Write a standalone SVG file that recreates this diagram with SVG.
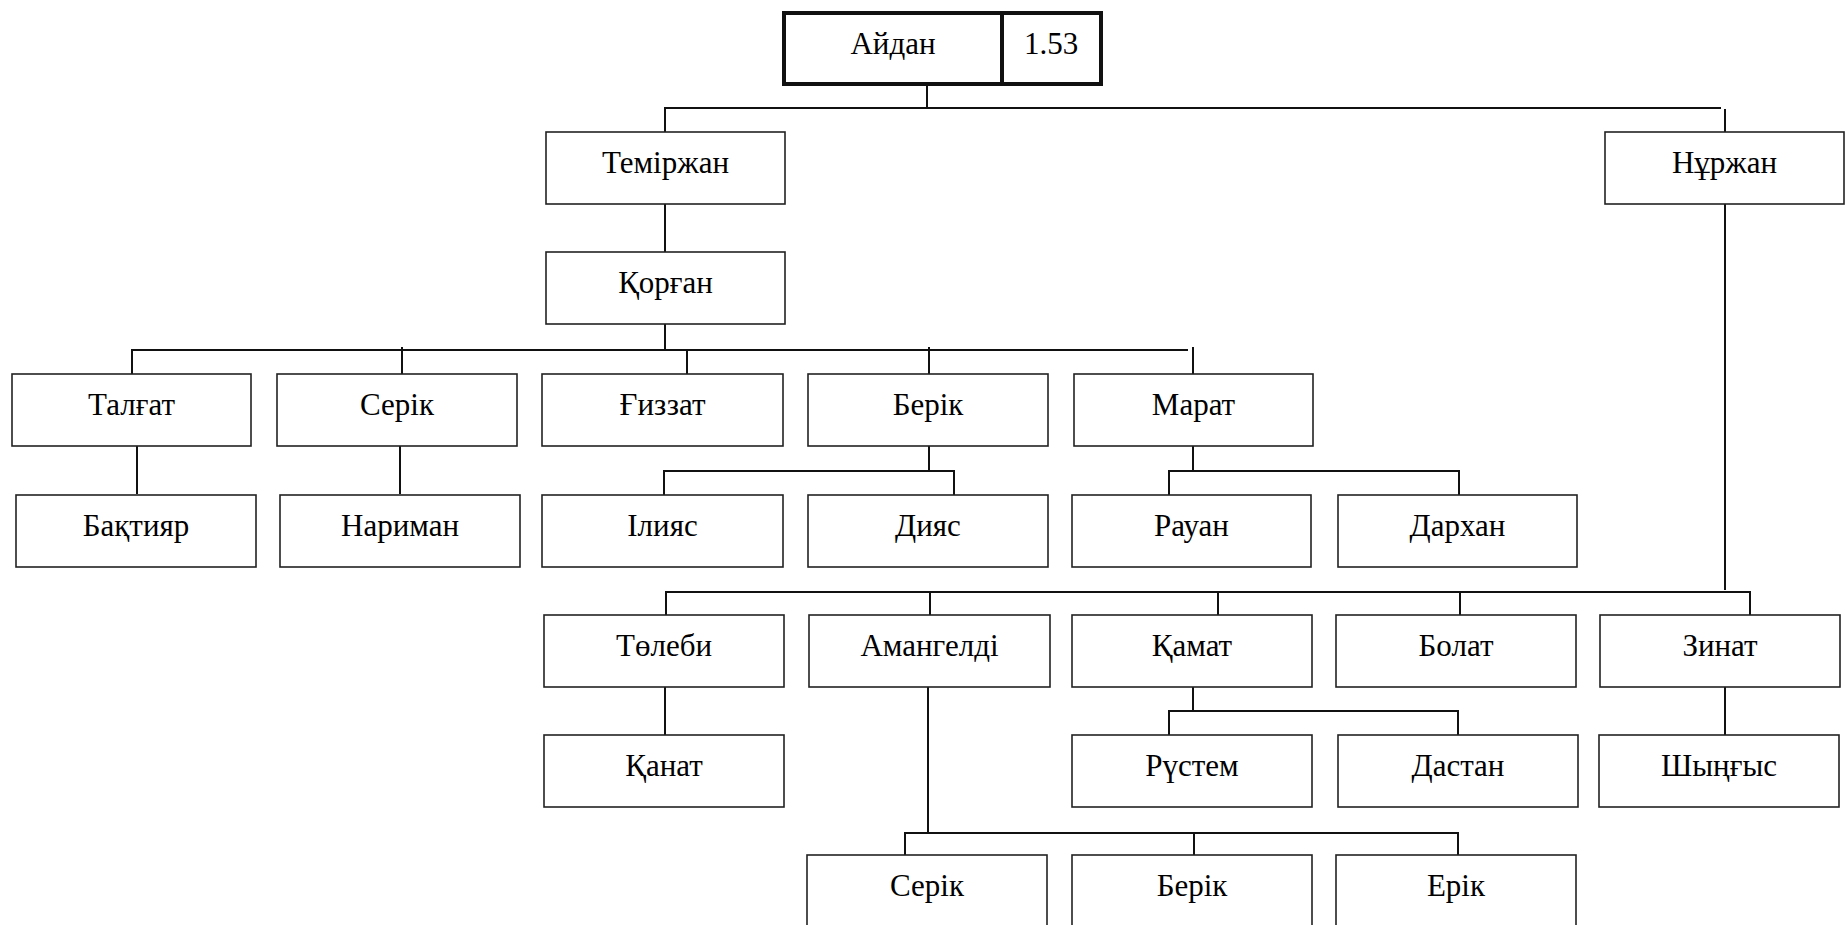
<svg xmlns="http://www.w3.org/2000/svg" width="1845" height="925" viewBox="0 0 1845 925">
<style>
  .b{fill:#fff;stroke:#222;stroke-width:1.6}
  .r{fill:#fff;stroke:#111;stroke-width:4}
  .t{font-family:"Liberation Serif","Times New Roman","DejaVu Serif",serif;font-size:31px;fill:#000;text-anchor:middle}
  .c line{stroke:#111;stroke-width:2;stroke-linecap:square}
</style>
<rect width="1845" height="925" fill="#fff"/>
<g class="c" id="connectors">
  <line x1="927" y1="84" x2="927" y2="108"/>
  <line x1="665" y1="108" x2="1720" y2="108"/>
  <line x1="665" y1="108" x2="665" y2="132"/>
  <line x1="1725" y1="110" x2="1725" y2="132"/>
  <line x1="665" y1="204" x2="665" y2="252"/>
  <line x1="665" y1="324" x2="665" y2="349"/>
  <line x1="132" y1="350" x2="1187" y2="350"/>
  <line x1="132" y1="350" x2="132" y2="374"/>
  <line x1="402" y1="348" x2="402" y2="373"/>
  <line x1="687" y1="350" x2="687" y2="374"/>
  <line x1="929" y1="348" x2="929" y2="373"/>
  <line x1="1193" y1="348" x2="1193" y2="373"/>
  <line x1="137" y1="446" x2="137" y2="493"/>
  <line x1="400" y1="446" x2="400" y2="493"/>
  <line x1="929" y1="446" x2="929" y2="471"/>
  <line x1="664" y1="471" x2="954" y2="471"/>
  <line x1="664" y1="471" x2="664" y2="495"/>
  <line x1="954" y1="471" x2="954" y2="495"/>
  <line x1="1193" y1="446" x2="1193" y2="471"/>
  <line x1="1169" y1="471" x2="1459" y2="471"/>
  <line x1="1169" y1="471" x2="1169" y2="495"/>
  <line x1="1459" y1="471" x2="1459" y2="495"/>
  <line x1="1725" y1="204" x2="1725" y2="589"/>
  <line x1="666" y1="592" x2="1750" y2="592"/>
  <line x1="666" y1="592" x2="666" y2="615"/>
  <line x1="930" y1="592" x2="930" y2="615"/>
  <line x1="1218" y1="592" x2="1218" y2="615"/>
  <line x1="1460" y1="592" x2="1460" y2="615"/>
  <line x1="1750" y1="592" x2="1750" y2="615"/>
  <line x1="665" y1="687" x2="665" y2="735"/>
  <line x1="1193" y1="687" x2="1193" y2="711"/>
  <line x1="1169" y1="711" x2="1458" y2="711"/>
  <line x1="1169" y1="711" x2="1169" y2="735"/>
  <line x1="1458" y1="711" x2="1458" y2="735"/>
  <line x1="1725" y1="687" x2="1725" y2="735"/>
  <line x1="928" y1="687" x2="928" y2="831"/>
  <line x1="905" y1="833" x2="1458" y2="833"/>
  <line x1="905" y1="833" x2="905" y2="855"/>
  <line x1="1194" y1="833" x2="1194" y2="855"/>
  <line x1="1458" y1="833" x2="1458" y2="855"/>
</g>
<g id="n-aidan">
  <rect class="r" x="784" y="13" width="317" height="71"/>
  <line x1="1002" y1="13" x2="1002" y2="84" stroke="#111" stroke-width="4"/>
  <text class="t" x="893" y="54">Айдан</text>
  <text class="t" x="1051" y="54">1.53</text>
</g>
<g id="n-temirzhan"><rect class="b" x="546" y="132" width="239" height="72"/><text class="t" x="665.5" y="173">Теміржан</text></g>
<g id="n-nurzhan"><rect class="b" x="1605" y="132" width="239" height="72"/><text class="t" x="1724.5" y="173">Нұржан</text></g>
<g id="n-qorgan"><rect class="b" x="546" y="252" width="239" height="72"/><text class="t" x="665.5" y="293">Қорған</text></g>
<g id="n-talgat"><rect class="b" x="12" y="374" width="239" height="72"/><text class="t" x="131.5" y="415">Талғат</text></g>
<g id="n-serik1"><rect class="b" x="277" y="374" width="240" height="72"/><text class="t" x="397" y="415">Серік</text></g>
<g id="n-gizzat"><rect class="b" x="542" y="374" width="241" height="72"/><text class="t" x="662.5" y="415">Ғиззат</text></g>
<g id="n-berik1"><rect class="b" x="808" y="374" width="240" height="72"/><text class="t" x="928" y="415">Берік</text></g>
<g id="n-marat"><rect class="b" x="1074" y="374" width="239" height="72"/><text class="t" x="1193.5" y="415">Марат</text></g>
<g id="n-baktiyar"><rect class="b" x="16" y="495" width="240" height="72"/><text class="t" x="136" y="536">Бақтияр</text></g>
<g id="n-nariman"><rect class="b" x="280" y="495" width="240" height="72"/><text class="t" x="400" y="536">Нариман</text></g>
<g id="n-iliyas"><rect class="b" x="542" y="495" width="241" height="72"/><text class="t" x="662.5" y="536">Ілияс</text></g>
<g id="n-diyas"><rect class="b" x="808" y="495" width="240" height="72"/><text class="t" x="928" y="536">Дияс</text></g>
<g id="n-rauan"><rect class="b" x="1072" y="495" width="239" height="72"/><text class="t" x="1191.5" y="536">Рауан</text></g>
<g id="n-darkhan"><rect class="b" x="1338" y="495" width="239" height="72"/><text class="t" x="1457.5" y="536">Дархан</text></g>
<g id="n-tolebi"><rect class="b" x="544" y="615" width="240" height="72"/><text class="t" x="664" y="656">Төлеби</text></g>
<g id="n-amangeldi"><rect class="b" x="809" y="615" width="241" height="72"/><text class="t" x="929.5" y="656">Амангелді</text></g>
<g id="n-qamat"><rect class="b" x="1072" y="615" width="240" height="72"/><text class="t" x="1192" y="656">Қамат</text></g>
<g id="n-bolat"><rect class="b" x="1336" y="615" width="240" height="72"/><text class="t" x="1456" y="656">Болат</text></g>
<g id="n-zinat"><rect class="b" x="1600" y="615" width="240" height="72"/><text class="t" x="1720" y="656">Зинат</text></g>
<g id="n-qanat"><rect class="b" x="544" y="735" width="240" height="72"/><text class="t" x="664" y="776">Қанат</text></g>
<g id="n-rustem"><rect class="b" x="1072" y="735" width="240" height="72"/><text class="t" x="1192" y="776">Рүстем</text></g>
<g id="n-dastan"><rect class="b" x="1338" y="735" width="240" height="72"/><text class="t" x="1458" y="776">Дастан</text></g>
<g id="n-shyngys"><rect class="b" x="1599" y="735" width="240" height="72"/><text class="t" x="1719" y="776">Шыңғыс</text></g>
<g id="n-serik2"><rect class="b" x="807" y="855" width="240" height="74"/><text class="t" x="927" y="896">Серік</text></g>
<g id="n-berik2"><rect class="b" x="1072" y="855" width="240" height="74"/><text class="t" x="1192" y="896">Берік</text></g>
<g id="n-erik"><rect class="b" x="1336" y="855" width="240" height="74"/><text class="t" x="1456" y="896">Ерік</text></g>
</svg>
